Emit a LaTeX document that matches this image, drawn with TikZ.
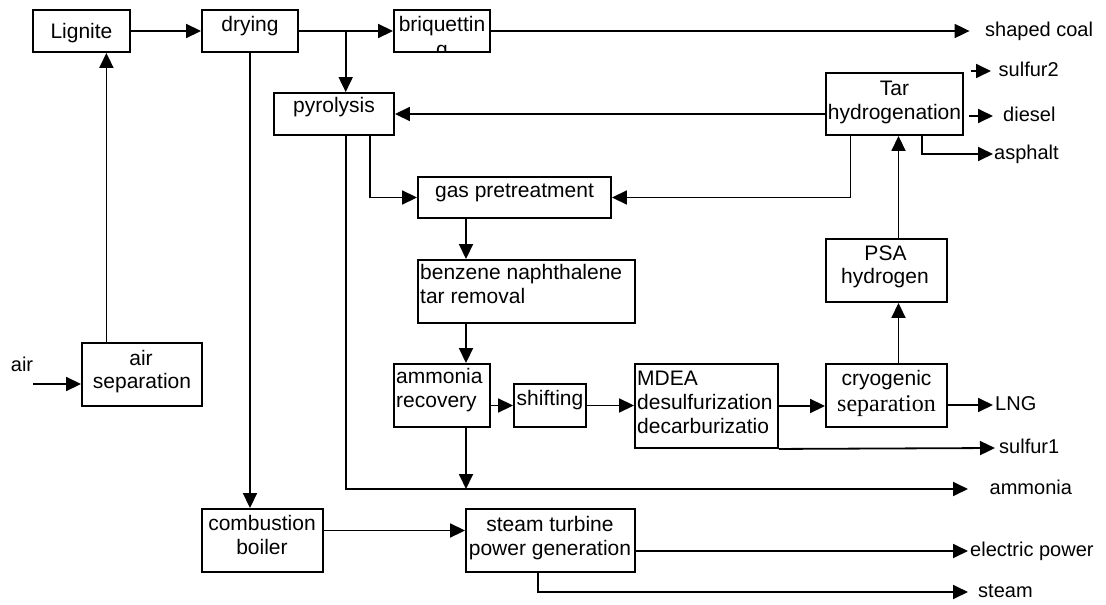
\documentclass[tikz,border=0pt]{standalone}
\usepackage{fontspec}
\setmainfont{Liberation Sans}
\newfontfamily\timesfont{Liberation Serif}
\usetikzlibrary{arrows.meta}

\tikzset{
  box/.style={draw, line width=1.9pt, inner sep=0pt, rectangle},
  flow/.style={line width=1.8pt, -{Triangle[length=15pt,width=14pt]}},
  boxtext/.style={inner sep=0pt, font=\fontsize{21}{24}\selectfont},
  lbl/.style={inner sep=0pt, anchor=west, text height=10.4pt, text depth=0pt,
              font=\fontsize{20}{24}\selectfont},
}

\begin{document}
\begin{tikzpicture}[x=1pt, y=-1pt]
\useasboundingbox (0,0) rectangle (1106,605);

% ---------- process units ----------
\node[box, minimum width=97pt,  minimum height=42pt] (lignite) at (81.5,31)  {};
\node[box, minimum width=96pt,  minimum height=42pt] (drying)  at (250,31)   {};
\node[box, minimum width=96pt,  minimum height=42pt] (briq)    at (442,31)   {};
\node[box, minimum width=120pt, minimum height=42pt] (pyro)    at (334,114)  {};
\node[box, minimum width=137pt, minimum height=62pt] (tar)     at (894.5,104){};
\node[box, minimum width=193pt, minimum height=41pt] (gas)     at (514.5,197.5){};
\node[box, minimum width=217pt, minimum height=63pt] (benz)    at (526.5,291.5){};
\node[box, minimum width=96pt,  minimum height=63pt] (ammrec)  at (442,395.5){};
\node[box, minimum width=72pt,  minimum height=43pt] (shift)   at (550,405.5){};
\node[box, minimum width=143pt, minimum height=84pt] (mdea)    at (706.5,406){};
\node[box, minimum width=121pt, minimum height=63pt] (cryo)    at (886.5,395.5){};
\node[box, minimum width=121pt, minimum height=63pt] (psa)     at (886.5,270.5){};
\node[box, minimum width=120pt, minimum height=63pt] (airsep)  at (142,374.5){};
\node[box, minimum width=121pt, minimum height=63pt] (comb)    at (262.5,540.5){};
\node[box, minimum width=169pt, minimum height=63pt] (turb)    at (550.5,540.5){};

% ---------- unit captions ----------
\node[boxtext, anchor=base] (lignite-t) at (81.5,38) {Lignite};
\node[boxtext, anchor=base] (drying-t)  at (250,31)  {drying};
\node[boxtext, anchor=base] (briq-t1)   at (442,31)  {briquettin};
\begin{scope}
  \clip (briq.south west) rectangle (briq.north east);
  \node[boxtext, anchor=base] (briq-t2) at (442,56) {g};
\end{scope}
\node[boxtext, anchor=base] (pyro-t)  at (334,112.5) {pyrolysis};
\node[boxtext, anchor=base] (tar-t1)  at (894.5,95)  {Tar};
\node[boxtext, anchor=base] (tar-t2)  at (894.5,119) {hydrogenation};
\node[boxtext, anchor=base] (gas-t)   at (514.5,197) {gas pretreatment};
\node[boxtext, anchor=base west] (benz-t1) at (420,279.5) {benzene naphthalene};
\node[boxtext, anchor=base west] (benz-t2) at (420,303.5) {tar removal};
\node[boxtext, anchor=base west] (ammrec-t1) at (396,383.5) {ammonia};
\node[boxtext, anchor=base west] (ammrec-t2) at (396,407.5) {recovery};
\node[boxtext, anchor=base] (shift-t) at (550,405.5) {shifting};
\node[boxtext, anchor=base west] (mdea-t1) at (637,385) {MDEA};
\node[boxtext, anchor=base west] (mdea-t2) at (637,409) {desulfurization};
\node[boxtext, anchor=base west] (mdea-t3) at (637,433) {decarburizatio};
\node[boxtext, anchor=base] (cryo-t1) at (886.5,385) {cryogenic};
\node[inner sep=0pt, anchor=base, font=\timesfont\fontsize{24}{26}\selectfont]
     (cryo-t2) at (886.5,411) {separation};
\node[boxtext, anchor=base] (psa-t1) at (885.5,260) {PSA};
\node[boxtext, anchor=base] (psa-t2) at (885,283) {hydrogen};
\node[boxtext, anchor=base] (airsep-t1) at (141,365) {air};
\node[boxtext, anchor=base] (airsep-t2) at (142,388) {separation};
\node[boxtext, anchor=base] (comb-t1) at (262,530) {combustion};
\node[boxtext, anchor=base] (comb-t2) at (262,554) {boiler};
\node[boxtext, anchor=base] (turb-t1) at (550,531) {steam turbine};
\node[boxtext, anchor=base] (turb-t2) at (550,555) {power generation};

% ---------- products and feeds ----------
\node[lbl] (shaped)  at (985,31)   {shaped coal};
\node[lbl] (sulfur2) at (998.5,71) {sulfur2};
\node[lbl] (diesel)  at (1003,116) {diesel};
\node[lbl] (asphalt) at (994,154)  {asphalt};
\node[lbl] (lng)     at (995,405)  {LNG};
\node[lbl] (sulfur1) at (999,448)  {sulfur1};
\node[lbl] (ammonia) at (989.5,489){ammonia};
\node[lbl] (elec)    at (970,551)  {electric power};
\node[lbl] (steam)   at (978,592)  {steam};
\node[lbl] (air)     at (10.7,366) {air};

% ---------- flows ----------
\draw[flow] (lignite) -- (drying);
\draw[flow] (drying) -- (briq);
\coordinate (split) at (345.7,31);
\draw[flow] (split) -- (split |- pyro.north);
\draw[flow] (briq) -- ([xshift=-15.4pt]shaped.west);

\coordinate (s2start) at (971,71);
\draw[flow] (s2start) -- ([xshift=-7.5pt]sulfur2.west);
\coordinate (dstart) at (969,116);
\draw[flow] (dstart) -- ([xshift=-10pt]diesel.west);
\draw[flow] ([xshift=27.5pt]tar.south) |- ([xshift=-1pt]asphalt.west);

\draw[flow] (tar.west |- pyro.east) -- (pyro.east);
\draw[flow] ([xshift=-44pt]tar.south) |- (gas.east);
\draw[flow] ([xshift=35.6pt]pyro.south) |- (gas.west);
\draw[flow] ([xshift=11.7pt]pyro.south) |- ([xshift=-21.5pt]ammonia.west);

\draw[flow] ([xshift=-48.5pt]gas.south) -- ([xshift=-60.5pt]benz.north);
\draw[flow] ([xshift=-60.5pt]benz.south) -- ([xshift=24pt]ammrec.north);
\draw[flow] (ammrec.east |- shift.west) -- (shift.west);
\draw[flow] (shift.east) -- (shift.east -| mdea.west);
\draw[flow] (mdea.east) -- (mdea.east -| cryo.west);
\draw[flow] (cryo.east |- lng.west) -- ([xshift=-2pt]lng.west);
\draw[flow] (mdea.south east) -- ([xshift=-4pt]sulfur1.west);
\draw[flow] ([xshift=12pt]cryo.north) -- ([xshift=12pt]psa.south);
\draw[flow] ([xshift=12pt]psa.north) -- ([xshift=12pt]psa.north |- tar.south);
\draw[flow] ([xshift=24pt]ammrec.south) -- ([xshift=24pt]ammrec.south |- ammonia.west);

\draw[flow] ([xshift=-35.6pt]airsep.north) -- ([xshift=-35.6pt]airsep.north |- lignite.south);
\coordinate (airin) at (33,384);
\draw[flow] (airin) -- (airin -| airsep.west);

\draw[flow] (drying.south) -- (drying.south |- comb.north);
\draw[flow] ([yshift=10pt]comb.east) -- ([yshift=10pt]comb.east -| turb.west);
\draw[flow] (turb.east |- elec.west) -- ([xshift=-2pt]elec.west);
\draw[flow] ([xshift=-12.5pt]turb.south) |- ([xshift=-10pt]steam.west);
\end{tikzpicture}
\end{document}
